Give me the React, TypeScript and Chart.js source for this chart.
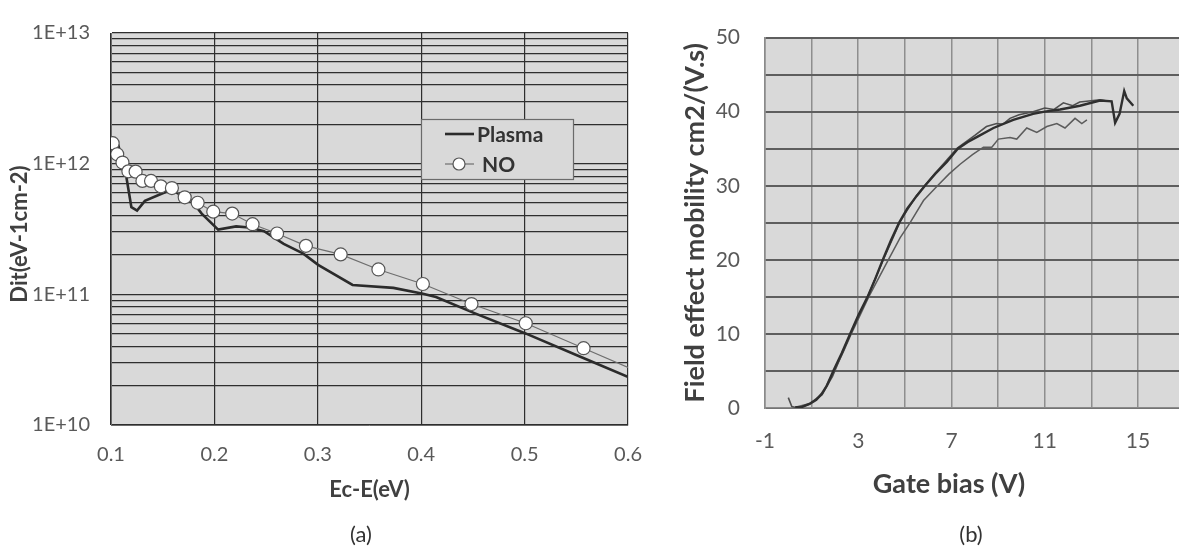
import React, { useEffect, useRef } from 'react';
import { Chart, registerables } from 'chart.js';

Chart.register(...registerables);

// ---------- Chart (a): Dit vs Ec-E ----------
const energyTicks = [0.1, 0.2, 0.3, 0.4, 0.5, 0.6];
const ditDecades = [1e10, 1e11, 1e12, 1e13];

const plasmaX = [0.1016, 0.1069, 0.1143, 0.1197, 0.1252, 0.1328, 0.158, 0.1782, 0.1877, 0.2036, 0.221, 0.2337, 0.248, 0.267, 0.286, 0.3003, 0.3336, 0.3731, 0.4016, 0.4143, 0.4508, 0.5014, 0.5522, 0.6003];
const plasmaY = [1.56e12, 1.40e12, 8.4e11, 4.65e11, 4.37e11, 5.19e11, 6.32e11, 5.19e11, 4.15e11, 3.13e11, 3.31e11, 3.25e11, 3.04e11, 2.43e11, 2.05e11, 1.68e11, 1.18e11, 1.12e11, 1.01e11, 9.55e10, 7.21e10, 5.0e10, 3.37e10, 2.33e10];

const noX = [0.1016, 0.106, 0.1111, 0.1168, 0.1238, 0.1304, 0.1387, 0.1482, 0.1589, 0.1713, 0.1838, 0.1989, 0.2172, 0.2369, 0.2606, 0.2885, 0.3221, 0.3586, 0.4016, 0.4486, 0.5011, 0.557, 0.6];
const noY = [1.435e12, 1.18e12, 1.02e12, 8.74e11, 8.69e11, 7.38e11, 7.38e11, 6.71e11, 6.51e11, 5.53e11, 5.02e11, 4.29e11, 4.15e11, 3.44e11, 2.92e11, 2.35e11, 2.02e11, 1.55e11, 1.2e11, 8.43e10, 6.01e10, 3.87e10, 2.76e10];

const seriesNamesA = ['Plasma', 'NO'];

// ---------- Chart (b): mobility vs gate bias ----------
const gateTicks = [-1, 1, 3, 5, 7, 9, 11, 13, 15];
const gateLabelTicks = [-1, 3, 7, 11, 15];
const mobilityLabelTicks = [0, 10, 20, 30, 40, 50];

const curveAX = [0.3, 0.6, 0.93, 1.2, 1.43, 1.65, 1.93, 2.29, 2.65, 3.0, 3.4, 3.7, 4.05, 4.4, 4.75, 5.1, 5.5, 5.86, 6.3, 6.8, 7.27, 7.7, 8.1, 8.8, 9.65, 10.5, 11.0, 11.66, 12.51, 13.37, 13.87, 14.02, 14.21, 14.41, 14.52, 14.8];
const curveAY = [0.1, 0.15, 0.6, 1.1, 1.9, 3.0, 5.0, 7.4, 10.0, 12.5, 15.0, 17.2, 20.0, 22.6, 25.0, 26.9, 28.6, 30.0, 31.6, 33.2, 35.0, 35.9, 36.6, 37.8, 38.9, 39.7, 40.0, 40.3, 40.8, 41.5, 41.4, 38.5, 39.7, 42.8, 41.8, 40.8];

const curveBX = [0.0, 0.15, 0.4, 0.9, 1.45, 1.9, 2.3, 2.7, 3.4, 4.1, 4.8, 5.5, 6.3, 7.25, 8.0, 8.5, 8.94, 9.2, 9.51, 9.9, 10.5, 11.0, 11.4, 11.8, 12.2, 12.5, 12.8, 13.37, 13.73];
const curveBY = [1.4, 0.2, 0.0, 0.5, 1.8, 4.3, 7.3, 10.2, 15.0, 20.2, 25.2, 28.7, 31.7, 35.1, 36.8, 38.0, 38.4, 38.3, 39.1, 39.6, 40.0, 40.5, 40.3, 41.2, 40.8, 41.3, 41.4, 41.6, 41.4];

const curveCX = [0.3, 0.93, 1.45, 1.95, 2.35, 2.7, 3.45, 4.29, 4.8, 5.22, 5.8, 6.4, 6.9, 7.37, 7.9, 8.37, 8.73, 9.01, 9.51, 9.8, 10.23, 10.66, 11.09, 11.52, 11.87, 12.3, 12.59, 12.81];
const curveCY = [0.1, 0.6, 1.9, 4.9, 7.5, 10.0, 15.0, 20.0, 23.0, 25.0, 28.0, 30.0, 31.6, 32.9, 34.2, 35.2, 35.2, 36.3, 36.5, 36.3, 37.8, 37.2, 38.0, 38.4, 37.8, 39.1, 38.4, 38.9];

const FONT = "Lato, 'Open Sans', sans-serif";
const TICK_COLOR = '#595959';
const TITLE_COLOR = '#404040';
const PLOT_BG = '#d9d9d9';

const zip = (xs: number[], ys: number[]) => xs.map((x, i) => ({ x, y: ys[i] }));

const plotBg = {
  id: 'plotBg',
  beforeDraw(chart: any) {
    const { ctx, chartArea } = chart;
    ctx.save();
    ctx.fillStyle = PLOT_BG;
    ctx.fillRect(chartArea.left, chartArea.top, chartArea.right - chartArea.left, chartArea.bottom - chartArea.top);
    ctx.restore();
  },
};

// Axis titles placed where the original figure has them (not always centred on the plot)
const freeTitles = {
  id: 'freeTitles',
  afterDraw(chart: any, _args: any, opts: any) {
    const { ctx } = chart;
    (opts.items || []).forEach((it: any) => {
      ctx.save();
      ctx.translate(it.x, it.y);
      ctx.rotate(it.rotation || 0);
      ctx.fillStyle = TITLE_COLOR;
      ctx.font = `bold ${it.size}px ${FONT}`;
      ctx.textAlign = 'center';
      ctx.textBaseline = 'middle';
      ctx.fillText(it.text, 0, 0);
      ctx.restore();
    });
  },
};

const boxLegend = {
  id: 'boxLegend',
  afterDatasetsDraw(chart: any) {
    const { ctx, chartArea } = chart;
    const x0 = chartArea.left + 310;
    const y0 = chartArea.top + 86;
    const w = 152;
    const h = 60;
    ctx.save();
    ctx.fillStyle = PLOT_BG;
    ctx.fillRect(x0, y0, w, h);
    ctx.strokeStyle = '#6b6b6b';
    ctx.lineWidth = 1.2;
    ctx.strokeRect(x0 + 0.5, y0 + 0.5, w, h);
    chart.data.datasets.forEach((ds: any, i: number) => {
      const cy = y0 + 15 + i * 30;
      ctx.strokeStyle = ds.borderColor;
      ctx.lineWidth = ds.borderWidth;
      ctx.beginPath();
      ctx.moveTo(x0 + 24, cy);
      ctx.lineTo(x0 + 53, cy);
      ctx.stroke();
      if (ds.legendMarker) {
        ctx.beginPath();
        ctx.arc(x0 + 38, cy, 6, 0, Math.PI * 2);
        ctx.fillStyle = '#ffffff';
        ctx.fill();
        ctx.strokeStyle = ds.pointBorderColor;
        ctx.lineWidth = 1.2;
        ctx.stroke();
      }
      ctx.fillStyle = '#333333';
      ctx.font = `bold 21px ${FONT}`;
      ctx.textBaseline = 'middle';
      ctx.textAlign = 'left';
      ctx.fillText(ds.label, x0 + 56 + (ds.legendMarker ? 5 : 0), cy + 1);
    });
    ctx.restore();
  },
};

function buildChartA(canvas: HTMLCanvasElement) {
  const logTicks: number[] = [];
  for (let d = 0; d < ditDecades.length - 1; d++) {
    for (let m = 1; m <= 9; m++) logTicks.push(m * ditDecades[d]);
  }
  logTicks.push(ditDecades[ditDecades.length - 1]);
  const isDecade = (v: number) => ditDecades.some((d) => Math.abs(d - v) / d < 1e-9);

  return new Chart(canvas, {
    type: 'line',
    data: {
      datasets: [
        {
          label: seriesNamesA[0],
          data: zip(plasmaX, plasmaY),
          borderColor: '#2b2b2b',
          borderWidth: 2.6,
          pointRadius: 0,
          tension: 0,
          order: 1,
        } as any,
        {
          label: seriesNamesA[1],
          data: zip(noX, noY),
          borderColor: '#6e6e6e',
          borderWidth: 1.2,
          pointRadius: (c: any) => (c.dataIndex === noX.length - 1 ? 0 : 6.5),
          pointBackgroundColor: '#ffffff',
          pointBorderColor: '#555555',
          pointBorderWidth: 1.2,
          tension: 0,
          order: 0,
          legendMarker: true,
        } as any,
      ],
    },
    options: {
      animation: false,
      responsive: false,
      events: [],
      layout: { padding: { left: 0, top: 17, right: 23, bottom: 0 } },
      plugins: {
        legend: { display: false },
        tooltip: { enabled: false },
        freeTitles: { items: [{ text: 'Dit(eV-1cm-2)', x: 20, y: 234, rotation: -Math.PI / 2, size: 22 }] },
      },
      scales: {
        x: {
          type: 'linear',
          min: energyTicks[0],
          max: energyTicks[energyTicks.length - 1],
          afterBuildTicks: (s: any) => {
            s.ticks = energyTicks.map((v) => ({ value: v }));
          },
          afterFit: (s: any) => {
            s.height = 127;
          },
          grid: { color: '#2e2e2e', lineWidth: 1.2, drawTicks: false },
          border: { color: '#6b6b6b', width: 1 },
          ticks: {
            padding: 18,
            autoSkip: false,
            maxRotation: 0,
            color: TICK_COLOR,
            font: { size: 20, family: FONT },
            callback: (v: any) => Number(v).toFixed(1),
          },
          title: {
            display: true,
            text: 'Ec-E(eV)',
            color: TITLE_COLOR,
            font: { size: 22, weight: 'bold', family: FONT },
            padding: { top: 0, bottom: 49 },
          },
        },
        y: {
          type: 'logarithmic',
          min: ditDecades[0],
          max: ditDecades[ditDecades.length - 1],
          afterBuildTicks: (s: any) => {
            s.ticks = logTicks.map((v) => ({ value: v }));
          },
          afterFit: (s: any) => {
            s.width = 111;
          },
          grid: { color: '#2e2e2e', lineWidth: 1.2, drawTicks: false },
          border: { color: '#6b6b6b', width: 1 },
          ticks: {
            padding: 21,
            autoSkip: false,
            color: TICK_COLOR,
            font: { size: 20, family: FONT },
            callback: (v: any) => (isDecade(Number(v)) ? `1E+${Math.round(Math.log10(Number(v)))}` : ''),
          },
        },
      },
    } as any,
    plugins: [plotBg, boxLegend, freeTitles],
  });
}

function buildChartB(canvas: HTMLCanvasElement) {
  const yTicks: number[] = [];
  for (let v = mobilityLabelTicks[0]; v <= mobilityLabelTicks[mobilityLabelTicks.length - 1]; v += 5) yTicks.push(v);
  return new Chart(canvas, {
    type: 'line',
    data: {
      datasets: [
        {
          label: 'A',
          data: zip(curveAX, curveAY),
          borderColor: '#2f2f2f',
          borderWidth: 2.4,
          pointRadius: 0,
          tension: 0,
          order: 0,
        },
        {
          label: 'B',
          data: zip(curveBX, curveBY),
          borderColor: '#4f4f4f',
          borderWidth: 1.6,
          pointRadius: 0,
          tension: 0,
          order: 1,
        },
        {
          label: 'C',
          data: zip(curveCX, curveCY),
          borderColor: '#5c5c5c',
          borderWidth: 1.5,
          pointRadius: 0,
          tension: 0,
          order: 2,
        },
      ],
    },
    options: {
      animation: false,
      responsive: false,
      events: [],
      layout: { padding: { left: 0, top: 16, right: 0, bottom: 0 } },
      plugins: {
        legend: { display: false },
        tooltip: { enabled: false },
        freeTitles: { items: [{ text: 'Gate bias (V)', x: 289, y: 484, rotation: 0, size: 27 }] },
      },
      scales: {
        x: {
          type: 'linear',
          min: gateTicks[0],
          max: 16.76,
          afterBuildTicks: (s: any) => {
            s.ticks = gateTicks.map((v) => ({ value: v }));
          },
          afterFit: (s: any) => {
            s.height = 144;
          },
          grid: { color: '#8e8e8e', lineWidth: 1.5, drawTicks: false },
          border: { color: '#8a8a8a', width: 1.5 },
          ticks: {
            padding: 21,
            autoSkip: false,
            maxRotation: 0,
            color: TICK_COLOR,
            font: { size: 21, family: FONT },
            callback: (v: any) => (gateLabelTicks.includes(Number(v)) ? String(v) : ''),
          },
        },
        y: {
          type: 'linear',
          min: mobilityLabelTicks[0],
          max: mobilityLabelTicks[mobilityLabelTicks.length - 1],
          afterBuildTicks: (s: any) => {
            s.ticks = yTicks.map((v) => ({ value: v }));
          },
          afterFit: (s: any) => {
            s.width = 105;
          },
          grid: { color: '#5e5e5e', lineWidth: 2, drawTicks: false },
          border: { color: '#8a8a8a', width: 1.5 },
          ticks: {
            padding: 25,
            autoSkip: false,
            color: TICK_COLOR,
            font: { size: 21, family: FONT },
            callback: (v: any) => (mobilityLabelTicks.includes(Number(v)) ? String(v) : ''),
          },
          title: {
            display: true,
            text: 'Field effect mobility cm2/(V.s)',
            color: TITLE_COLOR,
            font: { size: 27, weight: 'bold', family: FONT },
            padding: { top: 19, bottom: 0 },
          },
        },
      },
    } as any,
    plugins: [plotBg, freeTitles],
  });
}

export default function App() {
  const leftRef = useRef<HTMLCanvasElement>(null);
  const rightRef = useRef<HTMLCanvasElement>(null);

  useEffect(() => {
    const a = leftRef.current ? buildChartA(leftRef.current) : null;
    const b = rightRef.current ? buildChartB(rightRef.current) : null;
    return () => {
      a?.destroy();
      b?.destroy();
    };
  }, []);

  const capStyle: React.CSSProperties = {
    position: 'absolute',
    top: 521,
    width: 100,
    textAlign: 'center',
    fontFamily: FONT,
    fontSize: 22,
    lineHeight: '26px',
    color: '#333333',
  };

  return (
    <div style={{ position: 'absolute', left: 0, top: 0, width: 1179, height: 552, background: '#ffffff', overflow: 'hidden' }}>
      <canvas ref={leftRef} width={660} height={552} style={{ position: 'absolute', left: 0, top: 0 }} />
      <canvas ref={rightRef} width={519} height={552} style={{ position: 'absolute', left: 660, top: 0 }} />
      <div style={{ ...capStyle, left: 311 }}>(a)</div>
      <div style={{ ...capStyle, left: 921 }}>(b)</div>
    </div>
  );
}
